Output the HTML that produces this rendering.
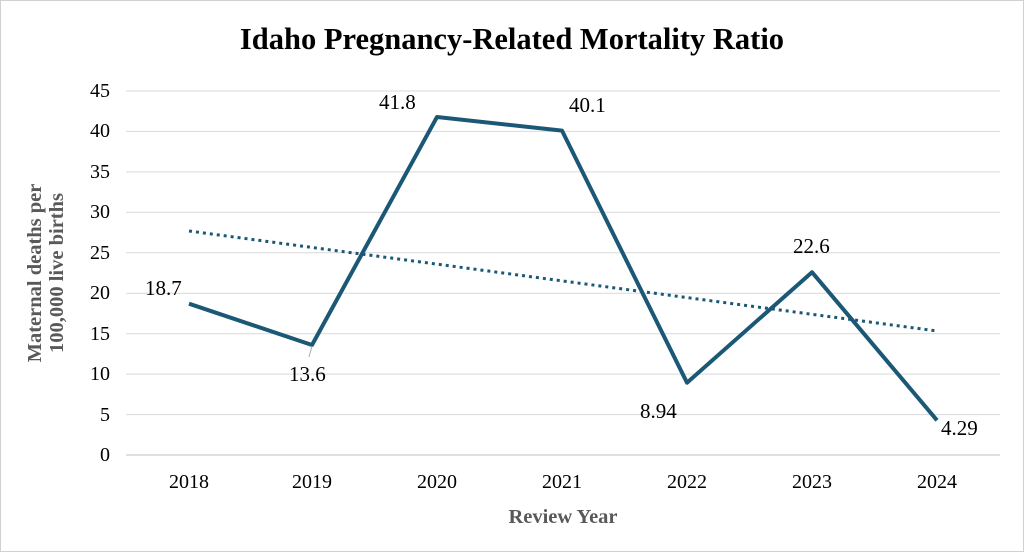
<!DOCTYPE html>
<html><head><meta charset="utf-8"><style>
body{margin:0;background:#fff;}
svg{display:block;font-family:"Liberation Serif",serif;}
</style></head><body>
<svg width="1024" height="552" viewBox="0 0 1024 552">
<rect x="0.5" y="0.5" width="1023" height="551" fill="#fff" stroke="#d0d0d0"/>
<text x="512" y="49" font-size="30.5" font-weight="bold" text-anchor="middle">Idaho Pregnancy-Related Mortality Ratio</text>
<g stroke="#d9d9d9" stroke-width="1">
<line x1="126" x2="1000" y1="91" y2="91"/><line x1="126" x2="1000" y1="131.4" y2="131.4"/>
<line x1="126" x2="1000" y1="171.9" y2="171.9"/><line x1="126" x2="1000" y1="212.3" y2="212.3"/>
<line x1="126" x2="1000" y1="252.8" y2="252.8"/><line x1="126" x2="1000" y1="293.2" y2="293.2"/>
<line x1="126" x2="1000" y1="333.7" y2="333.7"/><line x1="126" x2="1000" y1="374.1" y2="374.1"/>
<line x1="126" x2="1000" y1="414.6" y2="414.6"/>
</g>
<line x1="126" x2="1000" y1="455" y2="455" stroke="#bfbfbf"/>
<g font-size="20" text-anchor="end">
<text x="110" y="97">45</text><text x="110" y="137">40</text><text x="110" y="178">35</text>
<text x="110" y="218">30</text><text x="110" y="259">25</text><text x="110" y="299">20</text>
<text x="110" y="340">15</text><text x="110" y="380">10</text><text x="110" y="421">5</text>
<text x="110" y="461">0</text>
</g>
<g font-size="20" text-anchor="middle">
<text x="189" y="488">2018</text><text x="312" y="488">2019</text><text x="437" y="488">2020</text>
<text x="562" y="488">2021</text><text x="687" y="488">2022</text><text x="812" y="488">2023</text>
<text x="937" y="488">2024</text>
</g>
<text x="563" y="523" font-size="20.5" font-weight="bold" text-anchor="middle" fill="#595959">Review Year</text>
<g transform="translate(41,273) rotate(-90)" font-size="20.5" font-weight="bold" fill="#595959" text-anchor="middle">
<text x="0" y="0">Maternal deaths per</text><text x="0" y="22">100,000 live births</text>
</g>
<line x1="189" y1="231" x2="937" y2="331" stroke="#1b5876" stroke-width="3" stroke-dasharray="3,4"/>
<polyline fill="none" stroke="#1b5876" stroke-width="4" stroke-linejoin="round"
 points="189,303.7 312,345 437,117 562,130.6 687,382.7 812,272.2 937,420.3"/>
<line x1="312" y1="346" x2="309" y2="357" stroke="#aaa"/>
<g font-size="21">
<text x="145" y="295">18.7</text><text x="289" y="381">13.6</text><text x="379" y="109">41.8</text>
<text x="569" y="112">40.1</text><text x="640" y="418">8.94</text><text x="793" y="253">22.6</text>
<text x="941" y="435">4.29</text>
</g>
</svg>
</body></html>
